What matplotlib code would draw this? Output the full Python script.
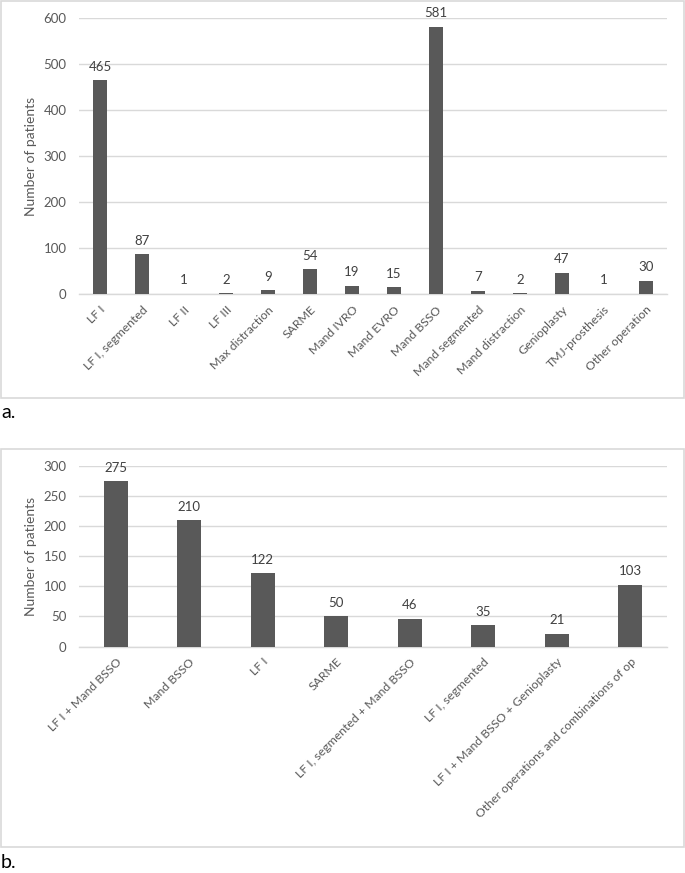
import numpy as np
import matplotlib
matplotlib.use('Agg')
import matplotlib.pyplot as plt
from matplotlib.patches import Rectangle

plt.rcParams['font.family'] = ['Lato', 'DejaVu Sans']

# chart a: single operations
ops_a = ['LF I', 'LF I, segmented', 'LF II', 'LF III', 'Max distraction', 'SARME',
         'Mand IVRO', 'Mand EVRO', 'Mand BSSO', 'Mand segmented', 'Mand distraction',
         'Genioplasty', 'TMJ-prosthesis', 'Other operation']
counts_a = [465, 87, 1, 2, 9, 54, 19, 15, 581, 7, 2, 47, 1, 30]
yticks_a = [0, 100, 200, 300, 400, 500, 600]

# chart b: combinations
ops_b = ['LF I + Mand BSSO', 'Mand BSSO', 'LF I', 'SARME', 'LF I, segmented + Mand BSSO',
         'LF I, segmented', 'LF I + Mand BSSO + Genioplasty',
         'Other operations and combinations of op']
counts_b = [275, 210, 122, 50, 46, 35, 21, 103]
yticks_b = [0, 50, 100, 150, 200, 250, 300]

W, H = 685, 873
BAR = '#595959'
GRID = '#d9d9d9'
TXT = '#595959'


def draw(ax, cats, vals, yticks):
    x = np.arange(len(cats))
    ax.bar(x, vals, width=0.32, color=BAR, zorder=3)
    ax.set_xlim(-0.5, len(cats) - 0.5)
    ax.set_ylim(yticks[0], yticks[-1])
    ax.set_yticks(yticks)
    ax.yaxis.grid(True, color=GRID, linewidth=1.0, zorder=0)
    for s in ['top', 'right', 'left']:
        ax.spines[s].set_visible(False)
    ax.spines['bottom'].set_color(GRID)
    ax.spines['bottom'].set_linewidth(1.0)
    ax.tick_params(length=0, colors=TXT, labelsize=9.5)
    ax.tick_params(axis='y', pad=9)
    ax.set_xticks(x)
    ax.set_xticklabels(cats, rotation=45, ha='right', rotation_mode='anchor', fontsize=8.8)
    ax.tick_params(axis='x', pad=7)
    for xi, v in zip(x, vals):
        ax.annotate(str(v), (xi, v), xytext=(0, 5.5), textcoords='offset points',
                    ha='center', va='bottom', fontsize=9.5, color='#404040')
    ax.set_ylabel('Number of patients', fontsize=10, color=TXT)
    ax.yaxis.set_label_coords(-0.072, 0.5)


fig = plt.figure(figsize=(W / 100, H / 100), dpi=100)

# panel borders
fig.patches.append(Rectangle((1 / W, 1 - 398 / H), 683 / W, 397 / H, transform=fig.transFigure,
                             fill=False, edgecolor=GRID, linewidth=1.2))
fig.patches.append(Rectangle((1 / W, 1 - 847 / H), 683 / W, 398 / H, transform=fig.transFigure,
                             fill=False, edgecolor=GRID, linewidth=1.2))

ax_a = fig.add_axes([79 / W, 1 - 294.3 / H, 588 / W, 276 / H])
draw(ax_a, ops_a, counts_a, yticks_a)

ax_b = fig.add_axes([79 / W, 1 - 646.5 / H, 588 / W, 180.2 / H])
draw(ax_b, ops_b, counts_b, yticks_b)

fig.text(1 / W, 1 - 412 / H, 'a.', fontsize=14, va='center', ha='left', color='black')
fig.text(1 / W, 1 - 862 / H, 'b.', fontsize=14, va='center', ha='left', color='black')

fig.savefig('out.png', dpi=100, facecolor='white')
